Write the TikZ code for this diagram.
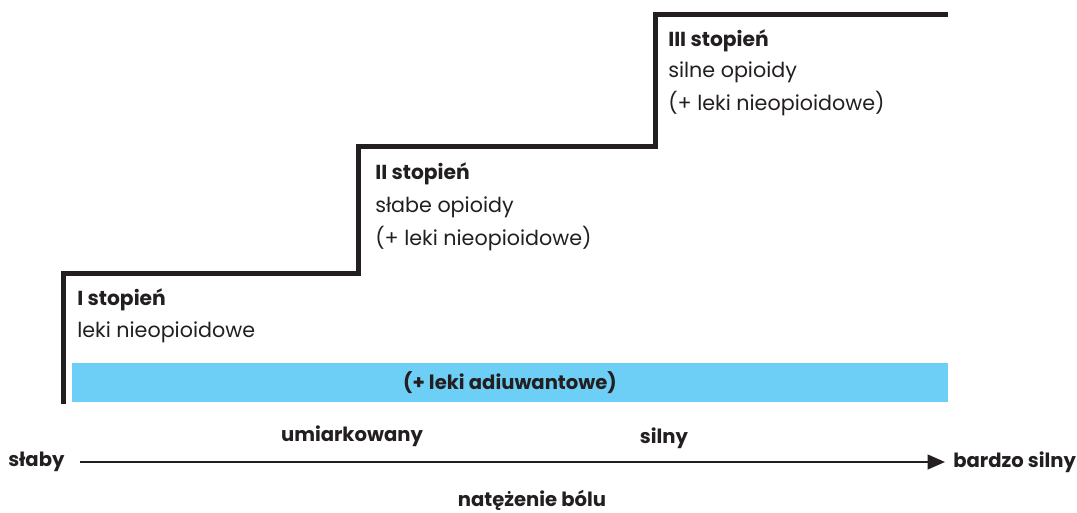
\documentclass[tikz,border=0pt]{standalone}
\usepackage{fontspec}
\setmainfont{Poppins}
\usetikzlibrary{arrows.meta}
\definecolor{stair}{HTML}{231F20}
\definecolor{barblue}{HTML}{6DCFF6}
\begin{document}
\begin{tikzpicture}[x=0.75pt,y=-0.75pt,
  lbl/.style={anchor=west,inner sep=0pt,font=\fontsize{15.5}{18}\selectfont,text=stair},
  blbl/.style={lbl,font=\fontsize{15.2}{18}\selectfont\bfseries},
  axl/.style={inner sep=0pt,font=\fontsize{14.7}{18}\selectfont\bfseries,text=stair}]
\useasboundingbox (0,0) rectangle (1077,513);
\fill[barblue] (72,363) rectangle (948,402);
\node[axl] (adj) at (510,383) {(+ leki adiuwantowe)};
\draw[stair,line width=3.75pt,line cap=butt] (63,404) -- (63,273) -- (358,273) -- (358,147) -- (655,147) -- (655,15) -- (948,15);
\node[blbl] (s1) at (77,300) {I stopień};
\node[lbl] (s1a) at (77,332) {leki nieopioidowe};
\node[blbl] (s2) at (375,174) {II stopień};
\node[lbl] (s2a) at (375,207) {słabe opioidy};
\node[lbl] (s2b) at (375,239) {(+ leki nieopioidowe)};
\node[blbl] (s3) at (668,41) {III stopień};
\node[lbl] (s3a) at (668,72) {silne opioidy};
\node[lbl] (s3b) at (668,104) {(+ leki nieopioidowe)};
\node[axl,anchor=west] (weak) at (8,462) {słaby};
\node[axl,anchor=west] (vs) at (953,462) {bardzo silny};
\coordinate (aend) at (945,462);
\draw[stair,line width=1.5pt,-{Triangle[length=13pt,width=11pt]}] (80,462) -- (aend);
\node[axl] (um) at (352,436) {umiarkowany};
\node[axl] (sil) at (664,438) {silny};
\node[axl] (nat) at (532,500) {natężenie bólu};
\end{tikzpicture}
\end{document}
